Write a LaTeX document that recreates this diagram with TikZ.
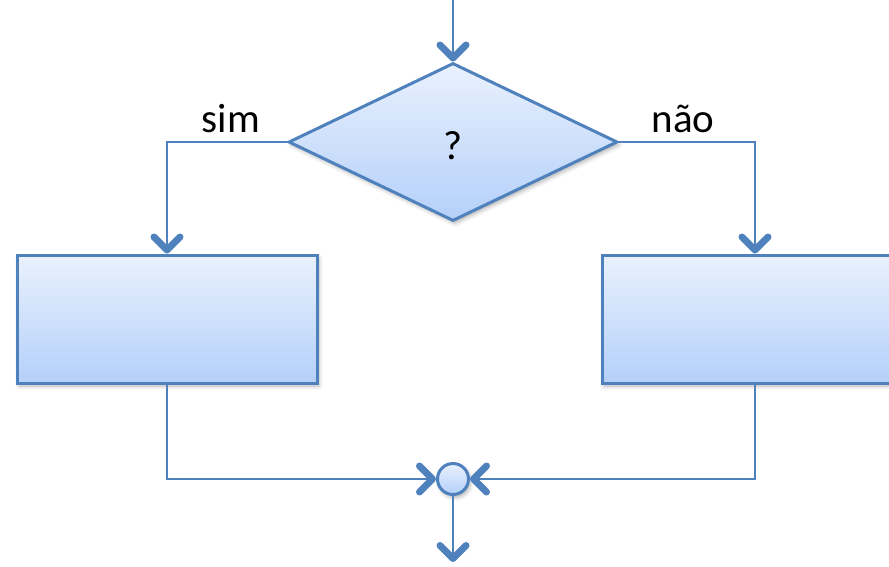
\documentclass[tikz,border=0pt]{standalone}
\usepackage{fontspec}
\setmainfont{Carlito}
\usetikzlibrary{arrows.meta,shapes.geometric,shadows.blur}
\definecolor{lineblue}{RGB}{79,129,189}
\definecolor{filltop}{RGB}{233,241,253}
\definecolor{fillbot}{RGB}{180,208,250}
\begin{document}
\begin{tikzpicture}[x=1pt,y=-1pt,
  shapebox/.style={draw=lineblue, line width=3pt, top color=filltop, bottom color=fillbot, inner sep=0pt,
    blur shadow={shadow xshift=2pt, shadow yshift=-3pt, shadow blur radius=4pt, shadow opacity=30}},
  conn/.style={draw=lineblue, line width=2.5pt, -{Straight Barb[length=13pt, width=26pt, line width=7pt, round]}},
  lbl/.style={font=\fontsize{41}{48}\selectfont, anchor=base, inner sep=0pt}]
\useasboundingbox (0,0) rectangle (889,566);
\clip (0,0) rectangle (889,566);
\node[shapebox, diamond, aspect=2.08, minimum width=329pt, minimum height=158pt] (d) at (453,142) {};
\node[shapebox, rectangle, minimum width=300pt, minimum height=128pt] (L) at (167,319) {};
\node[shapebox, rectangle, minimum width=306pt, minimum height=128pt] (R) at (755,319) {};
\node[shapebox, circle, minimum size=31pt] (c) at (453,479) {};
\node[lbl] (q) at (453,159) {?};
\node[lbl] (sim) at (231,132) {sim};
\node[lbl] (nao) at (683,132) {não};
\coordinate (top) at (453,0);
\coordinate (bot) at (453,562);
\draw[conn] (top) -- (d.north);
\draw[conn] (d.west) -| (L.north);
\draw[conn] (d.east) -| (R.north);
\draw[conn] (L.south) |- (c.west);
\draw[conn] (R.south) |- (c.east);
\draw[conn] (c.south) -- (bot);
\end{tikzpicture}
\end{document}
